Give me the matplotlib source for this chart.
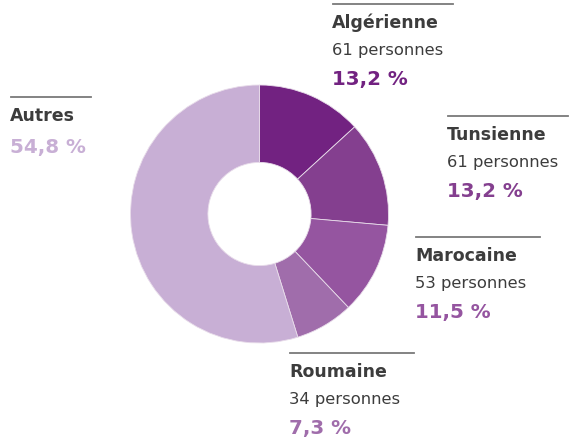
import matplotlib.pyplot as plt

labels = ["Algérienne", "Tunsienne", "Marocaine", "Roumaine", "Autres"]
persons = [61, 61, 53, 34, None]
shares = [13.2, 13.2, 11.5, 7.3, 54.8]
colors = ["#722281", "#843f8f", "#9555a0", "#a06dab", "#c8afd5"]

W, H = 570, 441
fig = plt.figure(figsize=(W / 100, H / 100), dpi=100)


def px(x, y):
    # pixel coords (top-left origin) -> figure fraction
    return x / W, 1 - y / H


# donut
cx, cy, r = 259.5, 214, 129
ax = fig.add_axes([(cx - r) / W, (H - cy - r) / H, 2 * r / W, 2 * r / H])
ax.pie(shares, colors=colors, startangle=90, counterclock=False,
       wedgeprops=dict(width=0.6, edgecolor="#e8dcea", linewidth=0.6))
ax.set_xlim(-1, 1)
ax.set_ylim(-1, 1)
ax.set_aspect("equal")
ax.axis("off")

# label blocks: x, y of the rule, rule length
blocks = [(333, 4, 120), (448, 116, 120), (416, 237, 124), (290, 353, 124), (11, 97, 80)]

text_col = "#3c3c3c"
fam = "DejaVu Sans"
for (x, y, ln), lab, n, s, c in zip(blocks, labels, persons, shares, colors):
    x0, y0 = px(x, y)
    x1, _ = px(x + ln, y)
    fig.add_artist(plt.Line2D([x0, x1], [y0, y0], color="#7a7a7a", lw=1.3))
    fig.text(*px(x - 1, y + 24), lab, fontsize=12.5, fontweight="bold",
             family=fam, color=text_col, va="baseline")
    pct = f"{s:.1f} %".replace(".", ",")
    if n is not None:
        fig.text(*px(x - 1, y + 51), f"{n} personnes", fontsize=11.8,
                 family=fam, color=text_col, va="baseline")
        fig.text(*px(x - 1, y + 81), pct, fontsize=14.3, fontweight="bold",
                 family=fam, color=c, va="baseline")
    else:
        fig.text(*px(x - 1, y + 56), pct, fontsize=14.3, fontweight="bold",
                 family=fam, color=c, va="baseline")

fig.savefig("out.png", dpi=100)
